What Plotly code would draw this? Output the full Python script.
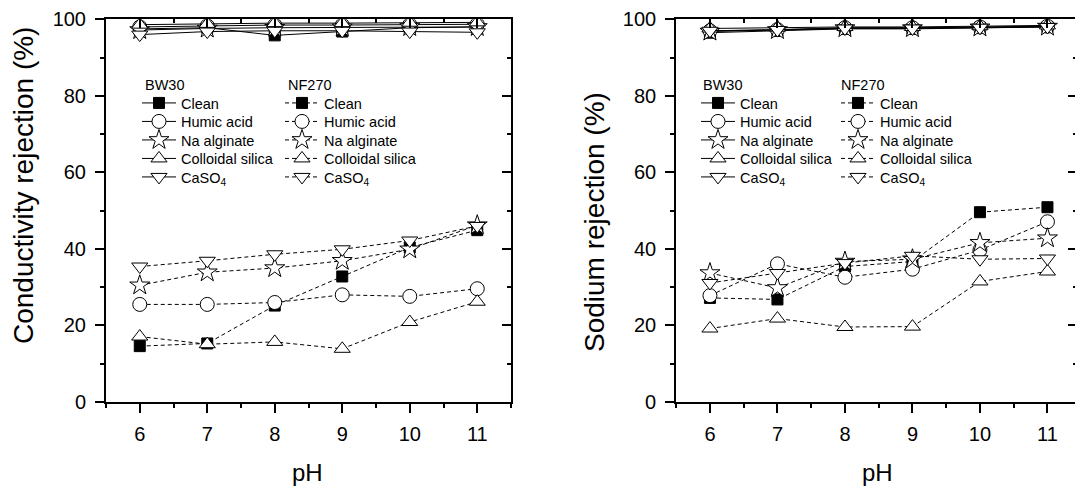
import plotly.graph_objects as go

W, H = 1075, 488

ph = [6, 7, 8, 9, 10, 11]
foulants = ["Clean", "Humic acid", "Na alginate", "Colloidal silica", "CaSO<sub>4</sub>"]

# Conductivity rejection (%) - BW30
cond_bw30_clean = [97.5, 97.8, 95.8, 96.8, 97.8, 98.0]
cond_bw30_humic = [98.0, 98.3, 98.5, 98.5, 98.6, 98.7]
cond_bw30_alginate = [97.2, 97.6, 97.8, 97.9, 98.0, 98.0]
cond_bw30_silica = [98.6, 98.8, 99.0, 99.0, 99.1, 99.2]
cond_bw30_caso4 = [96.0, 96.8, 97.0, 97.0, 96.8, 96.6]

# Conductivity rejection (%) - NF270
cond_nf270_clean = [14.6, 15.3, 25.2, 32.8, 40.4, 44.9]
cond_nf270_humic = [25.5, 25.5, 26.0, 28.0, 27.6, 29.6]
cond_nf270_alginate = [30.5, 33.9, 35.0, 36.9, 39.9, 46.2]
cond_nf270_silica = [17.1, 15.1, 15.7, 13.9, 20.9, 26.2]
cond_nf270_caso4 = [35.4, 36.9, 38.6, 39.9, 42.2, 46.0]

# Sodium rejection (%) - BW30
na_bw30_clean = [96.5, 97.0, 97.5, 97.5, 97.8, 98.0]
na_bw30_humic = [97.0, 97.3, 97.8, 97.8, 98.0, 98.2]
na_bw30_alginate = [96.8, 97.2, 97.7, 97.7, 97.9, 98.1]
na_bw30_silica = [97.6, 97.8, 98.0, 98.0, 98.2, 98.4]
na_bw30_caso4 = [97.0, 97.2, 97.6, 97.6, 97.8, 98.0]

# Sodium rejection (%) - NF270
na_nf270_clean = [27.2, 26.8, 35.4, 36.7, 49.6, 50.9]
na_nf270_humic = [27.8, 36.1, 32.6, 34.7, 39.7, 47.1]
na_nf270_alginate = [33.7, 29.8, 36.7, 37.3, 41.6, 42.8]
na_nf270_silica = [19.2, 21.8, 19.6, 19.7, 31.5, 34.1]
na_nf270_caso4 = [31.1, 33.7, 36.3, 38.2, 37.3, 37.5]

y_ticks = [0, 20, 40, 60, 80, 100]
x_ticks = [6, 7, 8, 9, 10, 11]

FONT = "Liberation Sans, Arial, Helvetica, sans-serif"

symbols = ["square", "circle", "star", "triangle-up", "triangle-down"]
sizes = [11, 14, 15, 14, 14]
fills = ["black", "white", "white", "white", "white"]

# legend column anchors (left edge of the sample, in pixels) per panel
panels = [
    dict(xa="x", ya="y",
         bw=[cond_bw30_clean, cond_bw30_humic, cond_bw30_alginate, cond_bw30_silica, cond_bw30_caso4],
         nf=[cond_nf270_clean, cond_nf270_humic, cond_nf270_alginate, cond_nf270_silica, cond_nf270_caso4],
         bw_x=137, nf_x=280),
    dict(xa="x2", ya="y2",
         bw=[na_bw30_clean, na_bw30_humic, na_bw30_alginate, na_bw30_silica, na_bw30_caso4],
         nf=[na_nf270_clean, na_nf270_humic, na_nf270_alginate, na_nf270_silica, na_nf270_caso4],
         bw_x=696, nf_x=836),
]

ROW0, ROWSTEP = 103, 18.5


def px_x(p):
    return p / W


def px_y(p):
    return 1 - p / H


fig = go.Figure()
legends = {}
n_leg = 0


def new_legend(x, y):
    global n_leg
    n_leg += 1
    name = "legend" if n_leg == 1 else f"legend{n_leg}"
    legends[name] = dict(
        x=px_x(x), y=px_y(y), xanchor="left", yanchor="middle",
        bgcolor="rgba(0,0,0,0)", borderwidth=0,
        font=dict(family=FONT, size=14.5, color="black"),
        itemwidth=34, tracegroupgap=0,
        itemclick=False, itemdoubleclick=False)
    return name


for p in panels:
    # NF270 (dashed) first, BW30 (solid) drawn on top
    for series, dash, lx in ((p["nf"], "4px,3px", p["nf_x"]), (p["bw"], "solid", p["bw_x"])):
        for i, vals in enumerate(series):
            lg = new_legend(lx, ROW0 + i * ROWSTEP)
            fig.add_trace(go.Scatter(
                x=ph, y=vals, xaxis=p["xa"], yaxis=p["ya"], mode="lines+markers",
                name=foulants[i], legend=lg,
                line=dict(color="black", width=1, dash=dash),
                marker=dict(symbol=symbols[i], size=sizes[i], color=fills[i],
                            line=dict(color="black", width=1)),
                hoverinfo="skip"))

# empty traces that carry the mirrored (inside-tick) top and right axes
for xa, ya in (("x3", "y"), ("x", "y3"), ("x4", "y2"), ("x2", "y4")):
    fig.add_trace(go.Scatter(x=[None], y=[None], xaxis=xa, yaxis=ya,
                             showlegend=False, hoverinfo="skip"))

ydom = [px_y(402), px_y(19.3)]
left_dom = [px_x(106), px_x(511)]
right_dom = [px_x(676.2), 1.0]
left_range = [5.5, 11.5]
right_range = [5.5, 5.5 + (W - 676.2) / 67.5]

tickfont = dict(family=FONT, size=20, color="black")


def bottom_axis(dom, rng, anchor):
    return dict(domain=dom, range=rng, anchor=anchor, tickvals=x_ticks,
                ticks="outside", ticklen=9, tickwidth=2, tickcolor="black",
                showline=True, linewidth=2, linecolor="black",
                showgrid=False, zeroline=False, tickfont=tickfont,
                ticklabelstandoff=4,
                minor=dict(dtick=0.5, tick0=5.5, ticks="outside", ticklen=4,
                           tickwidth=2, tickcolor="black", showgrid=False),
                fixedrange=True, automargin=False)


def top_axis(rng, over, anchor):
    return dict(overlaying=over, side="top", anchor=anchor, range=rng,
                tickvals=x_ticks, ticks="inside", ticklen=9, tickwidth=2,
                tickcolor="black", showticklabels=False,
                showline=True, linewidth=2, linecolor="black",
                showgrid=False, zeroline=False,
                minor=dict(dtick=0.5, tick0=5.5, ticks="inside", ticklen=4,
                           tickwidth=2, tickcolor="black", showgrid=False),
                fixedrange=True, automargin=False)


def left_axis(anchor):
    return dict(domain=ydom, range=[0, 100], anchor=anchor, tickvals=y_ticks,
                ticks="outside", ticklen=9, tickwidth=2, tickcolor="black",
                showline=True, linewidth=2, linecolor="black",
                showgrid=False, zeroline=False, tickfont=tickfont,
                ticklabelstandoff=5,
                minor=dict(dtick=10, ticks="outside", ticklen=4, tickwidth=2,
                           tickcolor="black", showgrid=False),
                fixedrange=True, automargin=False)


def right_axis(over, anchor, line=True, ticklen=9, minorlen=4):
    return dict(overlaying=over, side="right", anchor=anchor, range=[0, 100],
                tickvals=y_ticks, ticks="inside", ticklen=ticklen, tickwidth=2,
                tickcolor="black", showticklabels=False,
                showline=line, linewidth=2, linecolor="black",
                showgrid=False, zeroline=False,
                minor=dict(dtick=10, ticks="inside", ticklen=minorlen,
                           tickwidth=2, tickcolor="black", showgrid=False),
                fixedrange=True, automargin=False)


fig.update_layout(
    width=W, height=H, autosize=False,
    margin=dict(l=0, r=0, t=0, b=0, pad=0, autoexpand=False),
    paper_bgcolor="white", plot_bgcolor="white",
    font=dict(family=FONT, color="black"),
    xaxis=bottom_axis(left_dom, left_range, "y"),
    yaxis=left_axis("x"),
    xaxis3=top_axis(left_range, "x", "y"),
    yaxis3=right_axis("y", "x"),
    xaxis2=bottom_axis(right_dom, right_range, "y2"),
    yaxis2=left_axis("x2"),
    xaxis4=top_axis(right_range, "x2", "y2"),
    yaxis4=right_axis("y2", "x2", line=False, ticklen=7, minorlen=2),
    showlegend=True,
    **legends,
)

# membrane headers above each legend column
for text, x in (("BW30", 143), ("NF270", 286), ("BW30", 701), ("NF270", 839)):
    fig.add_annotation(text=text, xref="paper", yref="paper", x=px_x(x), y=px_y(85),
                       xanchor="left", yanchor="middle", showarrow=False,
                       font=dict(family=FONT, size=14.5, color="black"))

title_font = dict(family=FONT, size=28, color="black")
fig.add_annotation(text="Conductivity rejection (%)", xref="paper", yref="paper",
                   x=px_x(24), y=px_y(186), textangle=-90, showarrow=False,
                   font=title_font, xanchor="center", yanchor="middle")
fig.add_annotation(text="Sodium rejection (%)", xref="paper", yref="paper",
                   x=px_x(594), y=px_y(222), textangle=-90, showarrow=False,
                   font=title_font, xanchor="center", yanchor="middle")
for x in (307, 877):
    fig.add_annotation(text="pH", xref="paper", yref="paper",
                       x=px_x(x), y=px_y(472), showarrow=False,
                       font=dict(family=FONT, size=24, color="black"),
                       xanchor="center", yanchor="middle")

fig.write_html("out.html", config=dict(displayModeBar=False, staticPlot=True))
